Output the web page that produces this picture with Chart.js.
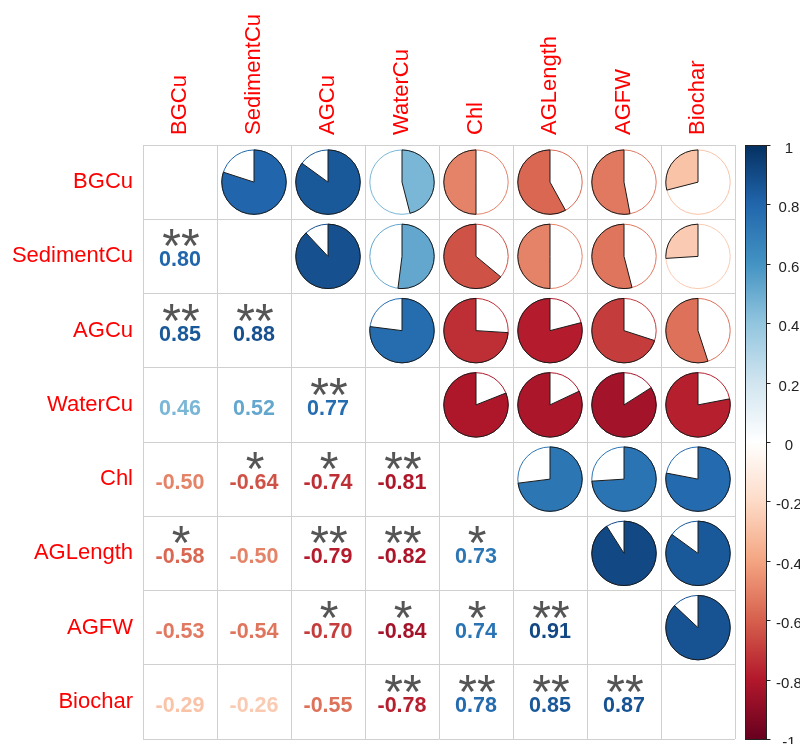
<!DOCTYPE html>
<html>
<head>
<meta charset="utf-8">
<script src="https://cdn.jsdelivr.net/npm/chart.js@4.4.1/dist/chart.umd.min.js"></script>
<style>
  html, body { margin: 0; padding: 0; background: #ffffff; }
  canvas { display: block; }
</style>
</head>
<body>
<canvas id="corr" width="800" height="744"></canvas>
<script>
// Variables of the correlation matrix (same order on both axes)
const variables = ['BGCu', 'SedimentCu', 'AGCu', 'WaterCu', 'Chl', 'AGLength', 'AGFW', 'Biochar'];

// Lower triangle of the Pearson correlation matrix, one row per variable
const corrBGCu       = [];
const corrSedimentCu = [0.80];
const corrAGCu       = [0.85, 0.88];
const corrWaterCu    = [0.46, 0.52, 0.77];
const corrChl        = [-0.50, -0.64, -0.74, -0.81];
const corrAGLength   = [-0.58, -0.50, -0.79, -0.82, 0.73];
const corrAGFW       = [-0.53, -0.54, -0.70, -0.84, 0.74, 0.91];
const corrBiochar    = [-0.29, -0.26, -0.55, -0.78, 0.78, 0.85, 0.87];

// Significance marks for the same cells (* p<0.05, ** p<0.01)
const sigBGCu        = [];
const sigSedimentCu  = ['**'];
const sigAGCu        = ['**', '**'];
const sigWaterCu     = ['', '', '**'];
const sigChl         = ['', '*', '*', '**'];
const sigAGLength    = ['*', '', '**', '**', '*'];
const sigAGFW        = ['', '', '*', '*', '*', '**'];
const sigBiochar     = ['', '', '', '**', '**', '**', '**'];

// Colour legend ticks
const legendTicks = [1, 0.8, 0.6, 0.4, 0.2, 0, -0.2, -0.4, -0.6, -0.8, -1];

// Diverging RdBu palette, from -1 to 1
const palette = ['#67001F', '#B2182B', '#D6604D', '#F4A582', '#FDDBC7', '#FFFFFF',
                 '#D1E5F0', '#92C5DE', '#4393C3', '#2166AC', '#053061'];

const lowerRows = [corrBGCu, corrSedimentCu, corrAGCu, corrWaterCu, corrChl, corrAGLength, corrAGFW, corrBiochar];
const sigRows   = [sigBGCu, sigSedimentCu, sigAGCu, sigWaterCu, sigChl, sigAGLength, sigAGFW, sigBiochar];

function hexToRgb(h) {
  return [parseInt(h.slice(1, 3), 16), parseInt(h.slice(3, 5), 16), parseInt(h.slice(5, 7), 16)];
}
function corrColor(r) {
  const t = Math.max(0, Math.min(1, (r + 1) / 2)) * (palette.length - 1);
  const i = Math.min(Math.floor(t), palette.length - 2);
  const f = t - i;
  const a = hexToRgb(palette[i]), b = hexToRgb(palette[i + 1]);
  const c = a.map((v, k) => Math.round(v + (b[k] - v) * f));
  return `rgb(${c[0]},${c[1]},${c[2]})`;
}

// Build the point sets: pies above the diagonal, numbers below it
const pieCells = [];
const numberCells = [];
for (let i = 0; i < variables.length; i++) {
  for (let j = 0; j < i; j++) {
    const r = lowerRows[i][j];
    numberCells.push({ x: variables[j], y: variables[i], r: r, sig: sigRows[i][j] });
    pieCells.push({ x: variables[i], y: variables[j], r: r });
  }
}

const FONT = "'Liberation Sans', Arial, Helvetica, sans-serif";

const corrCellsPlugin = {
  id: 'corrCells',
  afterDatasetsDraw(chart) {
    const ctx = chart.ctx;
    const xs = chart.scales.x;
    const cellW = Math.abs(xs.getPixelForValue(1) - xs.getPixelForValue(0));
    const radius = cellW * 0.435;

    // pies
    const pieMeta = chart.getDatasetMeta(0);
    pieMeta.data.forEach((pt, k) => {
      const d = chart.data.datasets[0].data[k];
      const col = corrColor(d.r);
      const cx = pt.x, cy = pt.y;
      ctx.save();
      ctx.beginPath();
      ctx.arc(cx, cy, radius, 0, Math.PI * 2);
      ctx.lineWidth = 1;
      ctx.strokeStyle = col;
      ctx.stroke();
      const start = -Math.PI / 2;
      const end = start + d.r * Math.PI * 2;
      ctx.beginPath();
      ctx.moveTo(cx, cy);
      ctx.arc(cx, cy, radius, start, end, d.r < 0);
      ctx.closePath();
      ctx.fillStyle = col;
      ctx.fill();
      ctx.strokeStyle = '#1a1a1a';
      ctx.lineWidth = 1;
      ctx.stroke();
      ctx.restore();
    });

    // coefficients with significance marks
    const numMeta = chart.getDatasetMeta(1);
    numMeta.data.forEach((pt, k) => {
      const d = chart.data.datasets[1].data[k];
      const cx = pt.x, cy = pt.y;
      ctx.save();
      ctx.textAlign = 'center';
      ctx.textBaseline = 'alphabetic';
      ctx.fillStyle = corrColor(d.r);
      ctx.font = `bold 21.5px ${FONT}`;
      ctx.fillText(d.r.toFixed(2), cx, cy + 10);
      if (d.sig) {
        ctx.fillStyle = '#555555';
        ctx.font = `48px ${FONT}`;
        ctx.fillText(d.sig, cx + 1, cy + 6);
      }
      ctx.restore();
    });
  }
};

const colorLegendPlugin = {
  id: 'colorLegend',
  afterDraw(chart) {
    const ctx = chart.ctx;
    const s = chart.scales.legend;
    const yTop = s.getPixelForValue(1);
    const yBot = s.getPixelForValue(-1);
    const x0 = 745.5, w = 21;
    ctx.save();
    const g = ctx.createLinearGradient(0, yBot, 0, yTop);
    palette.forEach((c, i) => g.addColorStop(i / (palette.length - 1), c));
    ctx.fillStyle = g;
    ctx.fillRect(x0, yTop, w, yBot - yTop);
    ctx.strokeStyle = '#222222';
    ctx.lineWidth = 1;
    ctx.strokeRect(x0, Math.round(yTop) + 0.5, w, Math.round(yBot - yTop));
    ctx.font = `15px ${FONT}`;
    ctx.fillStyle = '#222222';
    ctx.textAlign = 'center';
    ctx.textBaseline = 'middle';
    legendTicks.forEach(v => {
      const y = Math.round(s.getPixelForValue(v)) + 0.5;
      ctx.beginPath();
      ctx.moveTo(x0 + w, y);
      ctx.lineTo(x0 + w + 4, y);
      ctx.stroke();
      ctx.fillText(String(v), 789, y + 3);
    });
    ctx.restore();
  }
};

new Chart(document.getElementById('corr'), {
  type: 'scatter',
  data: {
    datasets: [
      { label: 'pies', data: pieCells, pointRadius: 0, pointHoverRadius: 0 },
      { label: 'numbers', data: numberCells, pointRadius: 0, pointHoverRadius: 0 }
    ]
  },
  options: {
    responsive: false,
    animation: false,
    events: [],
    layout: { padding: { left: 0, top: 0, right: 65, bottom: 5 } },
    plugins: { legend: { display: false }, tooltip: { enabled: false } },
    scales: {
      x: {
        type: 'category',
        labels: variables,
        position: 'top',
        offset: true,
        grid: { offset: true, color: '#d0d0d0', lineWidth: 1, drawTicks: false },
        border: { display: true, color: '#d0d0d0' },
        ticks: {
          color: '#ff0000', font: { family: FONT, size: 22 },
          minRotation: 90, maxRotation: 90, autoSkip: false, padding: 10,
          labelOffset: 26
        },
        afterFit: s => { s.height = 145; s.paddingLeft = 0; s.paddingRight = 0; }
      },
      y: {
        type: 'category',
        labels: variables,
        position: 'left',
        offset: true,
        grid: { offset: true, color: '#d0d0d0', lineWidth: 1, drawTicks: false },
        border: { display: true, color: '#d0d0d0' },
        ticks: {
          color: '#ff0000', font: { family: FONT, size: 22 },
          autoSkip: false, padding: 10
        },
        afterFit: s => { s.width = 143; s.paddingTop = 0; s.paddingBottom = 0; }
      },
      legend: {
        type: 'linear',
        position: 'right',
        display: false,
        min: -1,
        max: 1
      }
    }
  },
  plugins: [corrCellsPlugin, colorLegendPlugin]
});
</script>
</body>
</html>
